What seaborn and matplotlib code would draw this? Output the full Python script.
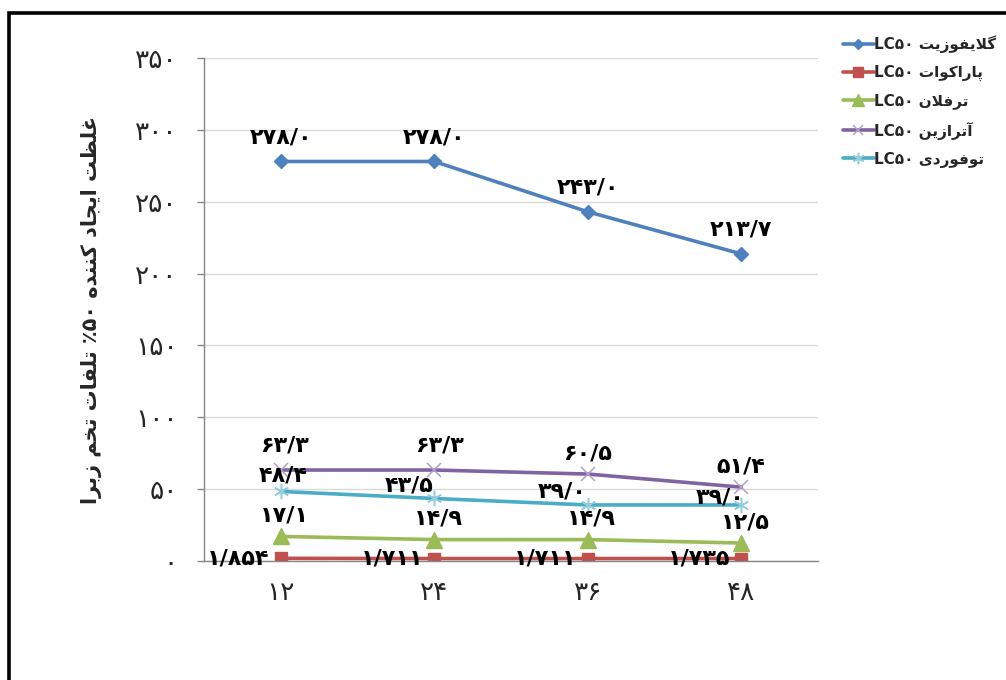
import matplotlib
matplotlib.use("Agg")
import matplotlib.pyplot as plt
import seaborn as sns
import pandas as pd
from matplotlib.lines import Line2D

# data
hours = [12, 24, 36, 48]
glyphosate = [278.0, 278.0, 243.0, 213.7]
paraquat = [1.854, 1.711, 1.711, 1.735]
treflan = [17.1, 14.9, 14.9, 12.5]
atrazine = [63.3, 63.3, 60.5, 51.4]
tofordi = [48.4, 43.5, 39.0, 39.0]
names = ["گلایفوزیت", "پاراکوات", "ترفلان", "آترازین", "توفوردی"]
y_title = "غلظت ایجاد کننده ٪۵۰ تلفات تخم زبرا"
y_ticks = [0, 50, 100, 150, 200, 250, 300, 350]

# matplotlib does no arabic shaping, so do a small one by hand
FORMS = {
    "ا": ("\uFE8D", "\uFE8E"), "آ": ("\uFE81", "\uFE82"),
    "د": ("\uFEA9", "\uFEAA"), "ر": ("\uFEAD", "\uFEAE"),
    "ز": ("\uFEAF", "\uFEB0"), "و": ("\uFEED", "\uFEEE"),
    "ب": ("\uFE8F", "\uFE90", "\uFE91", "\uFE92"),
    "پ": ("\uFB56", "\uFB57", "\uFB58", "\uFB59"),
    "ت": ("\uFE95", "\uFE96", "\uFE97", "\uFE98"),
    "ج": ("\uFE9D", "\uFE9E", "\uFE9F", "\uFEA0"),
    "خ": ("\uFEA5", "\uFEA6", "\uFEA7", "\uFEA8"),
    "ظ": ("\uFEC5", "\uFEC6", "\uFEC7", "\uFEC8"),
    "غ": ("\uFECD", "\uFECE", "\uFECF", "\uFED0"),
    "ف": ("\uFED1", "\uFED2", "\uFED3", "\uFED4"),
    "ک": ("\uFB8E", "\uFB8F", "\uFB90", "\uFB91"),
    "گ": ("\uFB92", "\uFB93", "\uFB94", "\uFB95"),
    "ل": ("\uFEDD", "\uFEDE", "\uFEDF", "\uFEE0"),
    "م": ("\uFEE1", "\uFEE2", "\uFEE3", "\uFEE4"),
    "ن": ("\uFEE5", "\uFEE6", "\uFEE7", "\uFEE8"),
    "ه": ("\uFEE9", "\uFEEA", "\uFEEB", "\uFEEC"),
    "ی": ("\uFBFC", "\uFBFD", "\uFBFE", "\uFBFF"),
}
LAMALEF = {"ا": ("\uFEFB", "\uFEFC"), "آ": ("\uFEF5", "\uFEF6")}


def shape_word(w):
    out = []
    i = 0
    while i < len(w):
        c = w[i]
        prev = out and i > 0 and w[i - 1] in FORMS and len(FORMS[w[i - 1]]) == 4
        if c == "ل" and i + 1 < len(w) and w[i + 1] in LAMALEF:
            out.append(LAMALEF[w[i + 1]][1 if prev else 0])
            i += 2
            continue
        if c not in FORMS:
            out.append(c)
            i += 1
            continue
        f = FORMS[c]
        nxt = len(f) == 4 and i + 1 < len(w) and w[i + 1] in FORMS
        if prev and nxt:
            out.append(f[3])
        elif prev:
            out.append(f[1])
        elif nxt:
            out.append(f[2])
        else:
            out.append(f[0])
        i += 1
    return "".join(out)


def farsi(s):
    words = []
    for w in s.split(" ")[::-1]:
        if any(ch in FORMS for ch in w):
            words.append(shape_word(w)[::-1])
        else:
            words.append(w)
    return " ".join(words)


fa_digits = str.maketrans("0123456789.", "۰۱۲۳۴۵۶۷۸۹/")


def fa_num(v, dec=0):
    return f"{v:.{dec}f}".translate(fa_digits)


sns.set_style("white")
plt.rcParams["font.family"] = ["DejaVu Sans"]

fig = plt.figure(figsize=(10.06, 6.80), dpi=100)
ax = fig.add_axes([0.2028, 0.175, 0.6103, 0.7397])

series = [glyphosate, paraquat, treflan, atrazine, tofordi]
colors = ["#4F81BD", "#C0504D", "#9BBB59", "#8064A2", "#4BACC6"]
mcolors = ["#4F81BD", "#C0504D", "#9BBB59", "#B3A2C7", "#93CDDD"]
markers = ["D", "s", "^", "x", (6, 2, 0)]
msizes = [7, 9, 11, 10, 11]
mews = [1, 1, 1, 1.1, 1.1]
decimals = [1, 3, 1, 1, 1]

handles = []
for vals, col, mc, mk, ms, mw in zip(series, colors, mcolors, markers, msizes, mews):
    df = pd.DataFrame({"hour": hours, "value": vals})
    sns.lineplot(data=df, x="hour", y="value", color=col, lw=2.6, marker=mk,
                 markersize=ms, markerfacecolor=mc, markeredgecolor=mc,
                 markeredgewidth=mw, ax=ax)
    handles.append(Line2D([], [], color=col, lw=2.6, marker=mk, markersize=ms * 0.75,
                          markerfacecolor=mc, markeredgecolor=mc, markeredgewidth=mw))

# data labels
lab_off = [
    [(0, 24)] * 4,
    [(-11, 0)] * 4,
    [(4, 21)] * 4,
    [(4, 25), (5, 25), (0, 21), (0, 21)],
    [(2, 16), (-25, 13), (-26, 13), (-21, 7)],
]
for vals, offs, dec, k in zip(series, lab_off, decimals, range(5)):
    for x, v, (dx, dy) in zip(hours, vals, offs):
        ax.annotate(fa_num(v, dec), (x, v), xytext=(dx, dy), textcoords="offset pixels",
                    ha="right" if k == 1 else "center", va="center",
                    fontsize=16, fontweight="bold", color="black")

ax.set_xlim(6, 54)
ax.set_ylim(0, 350)
ax.set_xticks(hours)
ax.set_xticklabels([fa_num(h) for h in hours], fontsize=19)
ax.set_xticks([6, 18, 30, 42, 54], minor=True)
ax.set_yticks(y_ticks)
ax.set_yticklabels([fa_num(t) for t in y_ticks], fontsize=19)
ax.tick_params(axis="x", which="major", length=0, pad=14)
ax.tick_params(axis="x", which="minor", length=5, color="#868686", width=1)
ax.tick_params(axis="y", length=5, color="#868686", width=1, pad=14, left=True)
ax.grid(axis="y", color="#D9D9D9", lw=1)
ax.set_axisbelow(True)
for s in ["top", "right"]:
    ax.spines[s].set_visible(False)
for s in ["left", "bottom"]:
    ax.spines[s].set_color("#868686")
    ax.spines[s].set_linewidth(1)
ax.set_xlabel("")
ax.set_ylabel(farsi(y_title), fontsize=15, fontweight="bold", labelpad=24)

labels = ["LC۵۰ " + farsi(n) for n in names]
fig.legend(handles, labels, loc="upper left", bbox_to_anchor=(0.838, 0.948),
           frameon=False, prop={"weight": "bold", "size": 11},
           handlelength=2.0, handletextpad=0.0, labelspacing=0.8,
           borderpad=0, borderaxespad=0)

# black frame that is cut at the right and bottom
fig.add_artist(plt.Rectangle((0.0085, -0.1), 1.2, 1.081, transform=fig.transFigure,
                             fill=False, ec="black", lw=2.6, clip_on=False))

fig.savefig("out.png", dpi=100)
